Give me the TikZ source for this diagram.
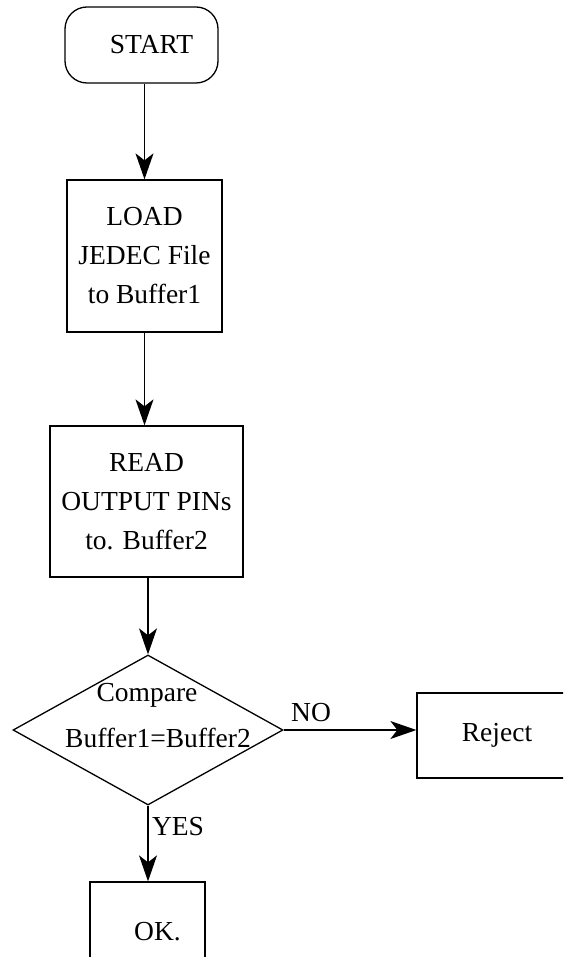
\documentclass[tikz,border=0pt]{standalone}
\usepackage{fontspec}
\setmainfont{Liberation Serif}
\usetikzlibrary{shapes.geometric,arrows.meta}
\begin{document}
\begin{tikzpicture}[x=1pt,y=-1pt,
  every node/.style={font=\fontsize{27.5}{39}\selectfont},
  line width=1.3pt,
  box/.style={draw,rectangle,inner sep=0pt,align=center},
  arr/.style={draw,-{Stealth[length=26pt,width=18pt,inset=7pt]}},
  lbl/.style={inner sep=0pt}]
\useasboundingbox (0,0) rectangle (563,957);
\clip (0,0) rectangle (563,957);
\fill[white] (0,0) rectangle (563,957);
% nodes
\node[box,rounded corners=22pt,minimum width=153pt,minimum height=76pt] (start) at (141.5,45) {\hspace*{20pt}START};
\node[box,minimum width=155pt,minimum height=152pt] (load) at (144.5,256) {LOAD\\JEDEC File\\to Buffer1};
\node[box,minimum width=193pt,minimum height=151pt] (read) at (146.5,501.5) {READ\\OUTPUT PINs\\to. Buffer2};
\node[draw,diamond,inner sep=0pt,minimum width=270pt,minimum height=150pt] (dia) at (148,730) {};
\node[lbl] (cmp) at (147,695) {Compare};
\node[lbl] (eq) at (158,738) {Buffer1=Buffer2};
\node[box,minimum width=160pt,minimum height=85pt] (reject) at (497,735.5) {Reject};
\node[box,minimum width=115pt,minimum height=90pt] (ok) at (147.5,927) {};
\node[lbl] (oktext) at ([xshift=10pt,yshift=-5pt]ok.center) {OK.};
\node[lbl] (no) at (311,713) {NO};
\node[lbl] (yes) at (178,827) {YES};
% connectors
\draw[arr] (load.north |- start.south) -- (load.north);
\draw[arr] (load.south) -- (load.south |- read.north);
\draw[arr] (dia.north |- read.south) -- (dia.north);
\draw[arr] (dia.east) -- (reject.west |- dia.east);
\draw[arr] (dia.south) -- (dia.south |- ok.north);
\end{tikzpicture}
\end{document}
